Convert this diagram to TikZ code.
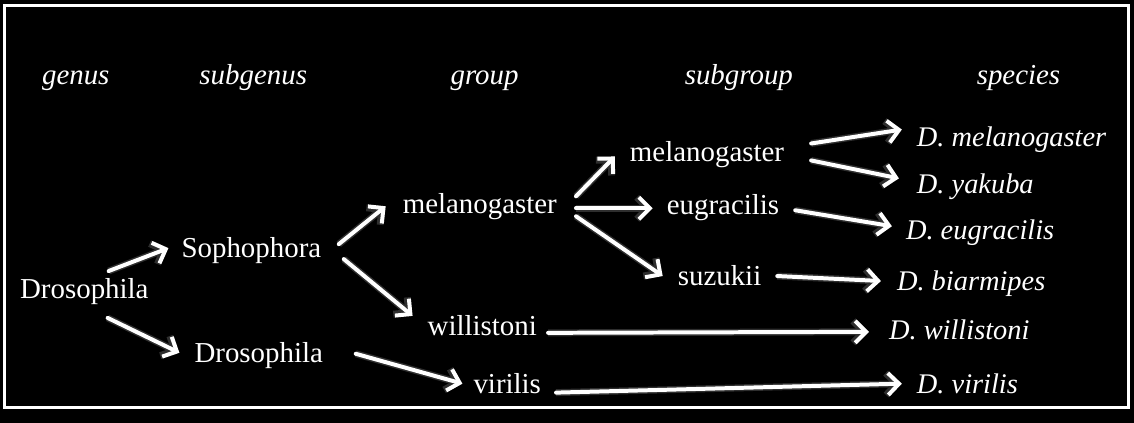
\documentclass[tikz,border=0pt]{standalone}
\usepackage{fontspec}
\setmainfont{Liberation Serif}
\usepackage{tikz}
\usetikzlibrary{arrows.meta}

\begin{document}
\begin{tikzpicture}[
    x=1pt, y=-1pt,
    font=\fontsize{29}{34}\selectfont,
    taxon/.style={text=white, anchor=base west, inner sep=0pt},
    rank/.style={taxon, font=\fontsize{29}{34}\selectfont\itshape},
    species/.style={taxon, font=\fontsize{28.5}{34}\selectfont\itshape},
    arr/.style={-{Straight Barb[length=11pt, width=22pt]}, line width=4pt, draw=white,
        line cap=round, line join=round,
        preaction={draw=white!18!black, line width=7pt}}
]

% Canvas and frame
\fill[black] (-2,-2) rectangle (1136,422);
\useasboundingbox (0,0) rectangle (1134,420);
\draw[white, line width=3pt] (2.5,4) rectangle (1130.5,407);

% Header row
\node[rank] (hgen)  at (40,83)  {genus};
\node[rank] (hsub)  at (198,83) {subgenus};
\node[rank] (hgrp)  at (450,83) {group};
\node[rank] (hsgrp) at (685,83) {subgroup};
\node[rank] (hspc)  at (978,83) {species};

% Genus and subgenera
\node[taxon] (gen)  at (18,298)  {Drosophila};
\node[taxon] (soph) at (180,256) {Sophophora};
\node[taxon] (dros) at (193,362) {Drosophila};

% Groups
\node[taxon] (melg) at (402,212) {melanogaster};
\node[taxon] (will) at (427,335) {willistoni};
\node[taxon] (viri) at (473,393) {virilis};

% Subgroups
\node[taxon] (mels) at (630,160) {melanogaster};
\node[taxon] (eugr) at (667,213) {eugracilis};
\node[taxon] (suzu) at (678,285) {suzukii};

% Species
\node[species] (dmel) at (918,145) {D. melanogaster};
\node[species] (dyak) at (918,192) {D. yakuba};
\node[species] (deug) at (907,238) {D. eugracilis};
\node[species] (dbia) at (898,290) {D. biarmipes};
\node[species] (dwil) at (890,339) {D. willistoni};
\node[species] (dvir) at (918,393) {D. virilis};

% Arrows between ranks
\draw[arr] ([shift={(89,-28)}]gen.base west) -- ([shift={(-13,-9)}]soph.base west);
\draw[arr] ([shift={(88,19)}]gen.base west) -- ([shift={(-15,-10)}]dros.base west);

\draw[arr] ([shift={(158,-13)}]soph.base west) -- ([shift={(-17,-7)}]melg.base west);
\draw[arr] ([shift={(163,2)}]soph.base west) -- ([shift={(-15,-20)}]will.base west);
\draw[arr] ([shift={(162,-9)}]dros.base west) -- ([shift={(-11,-10)}]viri.base west);

\draw[arr] ([shift={(174,-17)}]melg.base west) -- ([shift={(-15,-5)}]mels.base west);
\draw[arr] ([shift={(174,-5)}]melg.base west) -- ([shift={(-14,-6)}]eugr.base west);
\draw[arr] ([shift={(174,3)}]melg.base west) -- ([shift={(-15,-10)}]suzu.base west);

\draw[arr] ([shift={(121,-3)}]will.base west) -- ([shift={(-20,-8)}]dwil.base west);
\draw[arr] ([shift={(83,-1)}]viri.base west) -- ([shift={(-15,-10)}]dvir.base west);

\draw[arr] ([shift={(182,-18)}]mels.base west) -- ([shift={(-15,-17)}]dmel.base west);
\draw[arr] ([shift={(182,-1)}]mels.base west) -- ([shift={(-18,-15)}]dyak.base west);
\draw[arr] ([shift={(129,-4)}]eugr.base west) -- ([shift={(-14,-13)}]deug.base west);
\draw[arr] ([shift={(100,-10)}]suzu.base west) -- ([shift={(-16,-10)}]dbia.base west);

\end{tikzpicture}
\end{document}
